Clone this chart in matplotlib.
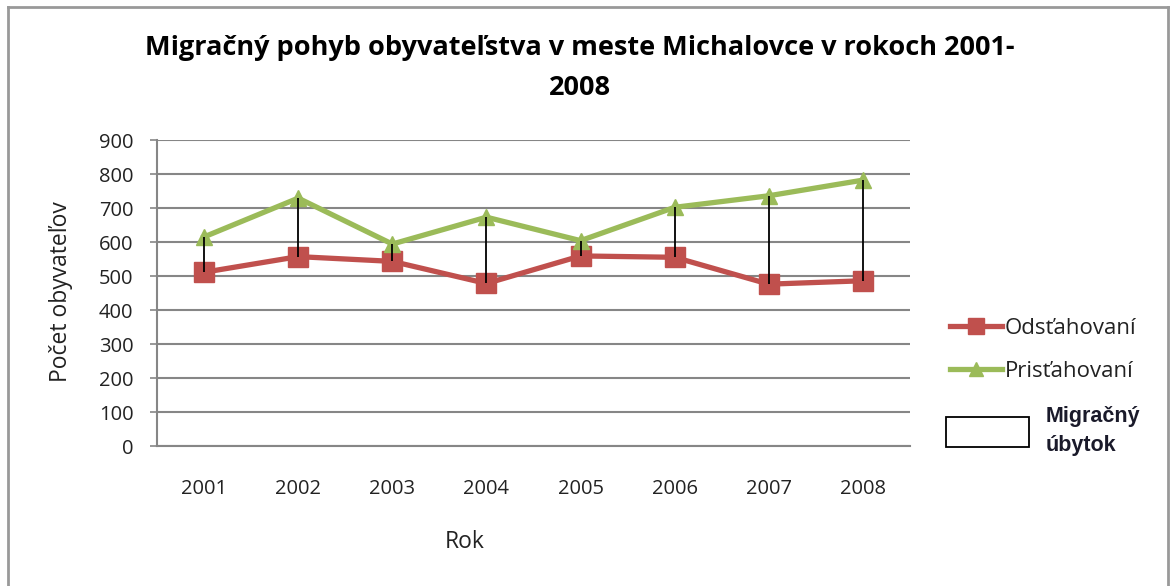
import matplotlib
matplotlib.use("Agg")
import matplotlib.pyplot as plt
from matplotlib.lines import Line2D
from matplotlib.patches import Rectangle
import numpy as np

years = ["2001", "2002", "2003", "2004", "2005", "2006", "2007", "2008"]
odstahovani = [511, 557, 543, 478, 559, 555, 476, 486]
pristahovani = [615, 729, 594, 673, 604, 702, 736, 782]
yticks = [0, 100, 200, 300, 400, 500, 600, 700, 800, 900]

title = "Migračný pohyb obyvateľstva v meste Michalovce v rokoch 2001-\n2008"
ylabel = "Počet obyvateľov"
xlabel = "Rok"
RED = "#C0504D"
GREEN = "#9BBB59"
GRID = "#868686"
TXT = "#222222"

W, H = 1171, 586
fig = plt.figure(figsize=(W / 100, H / 100), dpi=100)
fig.patch.set_facecolor("white")

ax = fig.add_axes([157 / W, 1 - 446 / H, 753 / W, 306 / H])
x = np.arange(len(years))

ax.plot(x, odstahovani, color=RED, lw=3.8, marker="s", markersize=14,
        markeredgecolor=RED, zorder=3, label="Odsťahovaní")
ax.plot(x, pristahovani, color=GREEN, lw=3.8, marker="^", markersize=12,
        markeredgecolor=GREEN, zorder=3, label="Prisťahovaní")
ax.vlines(x, odstahovani, pristahovani, color="black", lw=1.3, zorder=4)

ax.set_xlim(-0.5, len(years) - 0.5)
ax.set_ylim(0, 900)
ax.set_yticks(yticks)
ax.set_yticklabels([str(v) for v in yticks])
ax.set_xticks(x)
ax.set_xticklabels(years)
ax.yaxis.grid(True, color=GRID, lw=1.5)
ax.set_axisbelow(True)
for s in ["top", "right"]:
    ax.spines[s].set_visible(False)
for s in ["left", "bottom"]:
    ax.spines[s].set_color(GRID)
    ax.spines[s].set_linewidth(1.5)
ax.tick_params(axis="y", length=5, width=1.2, color=GRID, pad=12,
               labelsize=14.5, labelcolor=TXT)
ax.tick_params(axis="x", length=0, pad=24, labelsize=14.5, labelcolor=TXT)
for t in ax.get_xticklabels() + ax.get_yticklabels():
    t.set_family("Open Sans")

fig.text(580 / W, 1 - 68 / H, title, ha="center", va="center", fontsize=19.5,
         fontweight="bold", family="Open Sans", linespacing=1.7)
fig.text(61 / W, 1 - 292 / H, ylabel, rotation=90, ha="center", va="center",
         fontsize=16.5, family="Open Sans", color=TXT)
fig.text(465 / W, 1 - 542 / H, xlabel, ha="center", va="center",
         fontsize=16.5, family="Open Sans", color=TXT)

h1 = Line2D([], [], color=RED, lw=3.8, marker="s", markersize=11)
h2 = Line2D([], [], color=GREEN, lw=3.8, marker="^", markersize=10)
leg1 = fig.legend([h1, h2], ["Odsťahovaní", "Prisťahovaní"], loc="center left",
                  bbox_to_anchor=(950 / W, 1 - 350 / H), frameon=False,
                  handlelength=2.35, handletextpad=0.1, labelspacing=1.0,
                  borderaxespad=0, borderpad=0,
                  prop={"family": "Open Sans", "size": 16})
for t in leg1.get_texts():
    t.set_color(TXT)
h3 = Rectangle((0, 0), 1, 1, facecolor="white", edgecolor="black", lw=1.3)
leg2 = fig.legend([h3], ["Migračný\núbytok"], loc="center left",
                  bbox_to_anchor=(946 / W, 1 - 431 / H), frameon=False,
                  handlelength=3.85, handleheight=1.75, handletextpad=0.8,
                  borderaxespad=0, borderpad=0,
                  prop={"family": "Liberation Sans", "size": 15.5, "weight": "bold"})
for t in leg2.get_texts():
    t.set_color("#1a1a2a")
    t.set_linespacing(1.55)

# chart-area border
fig.add_artist(Line2D([8 / W, 8 / W], [0, 1 - 7 / H], transform=fig.transFigure,
                      color="#999999", lw=2))
fig.add_artist(Line2D([8 / W, 1168 / W], [1 - 7 / H, 1 - 7 / H],
                      transform=fig.transFigure, color="#999999", lw=2))
fig.add_artist(Line2D([1168 / W, 1168 / W], [0, 1 - 7 / H],
                      transform=fig.transFigure, color="#999999", lw=2))

fig.savefig("out.png", dpi=100, facecolor="white")
